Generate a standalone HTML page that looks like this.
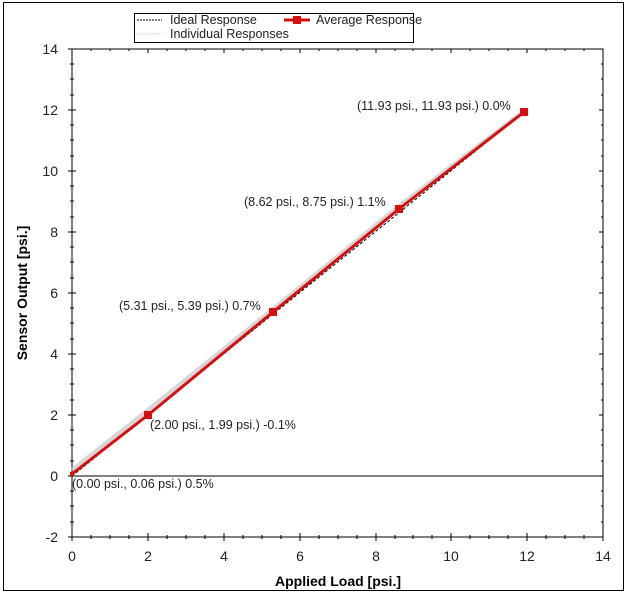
<!DOCTYPE html>
<html><head><style>body{margin:0;background:#fff}svg{display:block}</style></head><body>
<svg width="628" height="602" xmlns="http://www.w3.org/2000/svg" font-family="Liberation Sans, sans-serif">
<rect x="3.5" y="2.5" width="620" height="588" fill="#fff" stroke="#000"/>
<rect x="72" y="49" width="531" height="488" fill="none" stroke="#000"/>
<line x1="72" y1="476" x2="603" y2="476" stroke="#000"/>
<g stroke="#000" stroke-width="1">
<path d="M72 537V541M148 533V541M224 533V541M300 533V541M376 533V541M451 533V541M527 533V541M603 533V541"/>
<path d="M91 535V539M110 535V539M129 535V539M167 535V539M186 535V539M205 535V539M243 535V539M262 535V539M281 535V539M319 535V539M338 535V539M357 535V539M395 535V539M413 535V539M432 535V539M470 535V539M489 535V539M508 535V539M546 535V539M565 535V539M584 535V539"/>
<path d="M68 49H76M68 110H76M68 171H76M68 232H76M68 293H76M68 354H76M68 415H76M68 476H76M68 537H76"/>
<path d="M70 64H74M70 79H74M70 95H74M70 125H74M70 140H74M70 156H74M70 186H74M70 201H74M70 217H74M70 247H74M70 262H74M70 278H74M70 308H74M70 323H74M70 339H74M70 369H74M70 384H74M70 400H74M70 430H74M70 445H74M70 461H74M70 491H74M70 506H74M70 522H74"/>
<path d="M148 49V53M224 49V53M300 49V53M376 49V53M451 49V53M527 49V53M91 49V51M110 49V51M129 49V51M167 49V51M186 49V51M205 49V51M243 49V51M262 49V51M281 49V51M319 49V51M338 49V51M357 49V51M395 49V51M413 49V51M432 49V51M470 49V51M489 49V51M508 49V51M546 49V51M565 49V51M584 49V51"/>
<path d="M599 110H603M599 171H603M599 232H603M599 293H603M599 354H603M599 415H603M601 64H603M601 79H603M601 95H603M601 125H603M601 140H603M601 156H603M601 186H603M601 201H603M601 217H603M601 247H603M601 262H603M601 278H603M601 308H603M601 323H603M601 339H603M601 369H603M601 384H603M601 400H603M601 430H603M601 445H603M601 461H603M601 491H603M601 506H603M601 522H603"/>
</g>
<g fill="#222" font-size="14" text-anchor="end">
<text x="58" y="54">14</text><text x="58" y="115">12</text><text x="58" y="176">10</text><text x="58" y="237">8</text><text x="58" y="298">6</text><text x="58" y="359">4</text><text x="58" y="420">2</text><text x="58" y="481">0</text><text x="58" y="542">-2</text>
</g>
<g fill="#222" font-size="14" text-anchor="middle">
<text x="72" y="561">0</text><text x="148" y="561">2</text><text x="224" y="561">4</text><text x="300" y="561">6</text><text x="376" y="561">8</text><text x="451" y="561">10</text><text x="527" y="561">12</text><text x="603" y="561">14</text>
</g>
<text x="338" y="586" font-size="14" font-weight="bold" text-anchor="middle">Applied Load [psi.]</text>
<text transform="translate(27,293) rotate(-90)" font-size="14" font-weight="bold" text-anchor="middle">Sensor Output [psi.]</text>
<polyline points="72,470 148,410 273,309 399,206 524,111" fill="none" stroke="#ccc" stroke-width="4" opacity="0.8"/>
<line x1="72" y1="476" x2="524" y2="112" stroke="#000" stroke-dasharray="3,2"/>
<polyline points="72,474 148,415 273,312 399,209 524,112" fill="none" stroke="#d41010" stroke-width="3"/>
<g fill="#d41010"><rect x="144" y="411" width="8" height="8"/><rect x="269" y="308" width="8" height="8"/><rect x="395" y="205" width="8" height="8"/><rect x="520" y="108" width="8" height="8"/><rect x="70" y="472" width="4" height="4"/></g>
<g fill="#222" font-size="12.5">
<text x="357" y="110">(11.93 psi., 11.93 psi.) 0.0%</text>
<text x="244" y="206">(8.62 psi., 8.75 psi.) 1.1%</text>
<text x="119" y="310">(5.31 psi., 5.39 psi.) 0.7%</text>
<text x="150" y="429">(2.00 psi., 1.99 psi.) -0.1%</text>
<text x="72" y="488">(0.00 psi., 0.06 psi.) 0.5%</text>
</g>
<rect x="134.5" y="13.5" width="279" height="29" fill="#fff" stroke="#000"/>
<line x1="137" y1="20" x2="162" y2="20" stroke="#000" stroke-dasharray="2,1"/>
<line x1="137" y1="34" x2="162" y2="34" stroke="#ccc" stroke-dasharray="2,1"/>
<line x1="284" y1="20" x2="310" y2="20" stroke="#d41010" stroke-width="3"/>
<rect x="293" y="16" width="8" height="8" fill="#d41010"/>
<g font-size="12.5" fill="#222"><text x="170" y="24">Ideal Response</text><text x="170" y="38">Individual Responses</text><text x="316" y="24">Average Response</text></g>
</svg>
</body></html>
